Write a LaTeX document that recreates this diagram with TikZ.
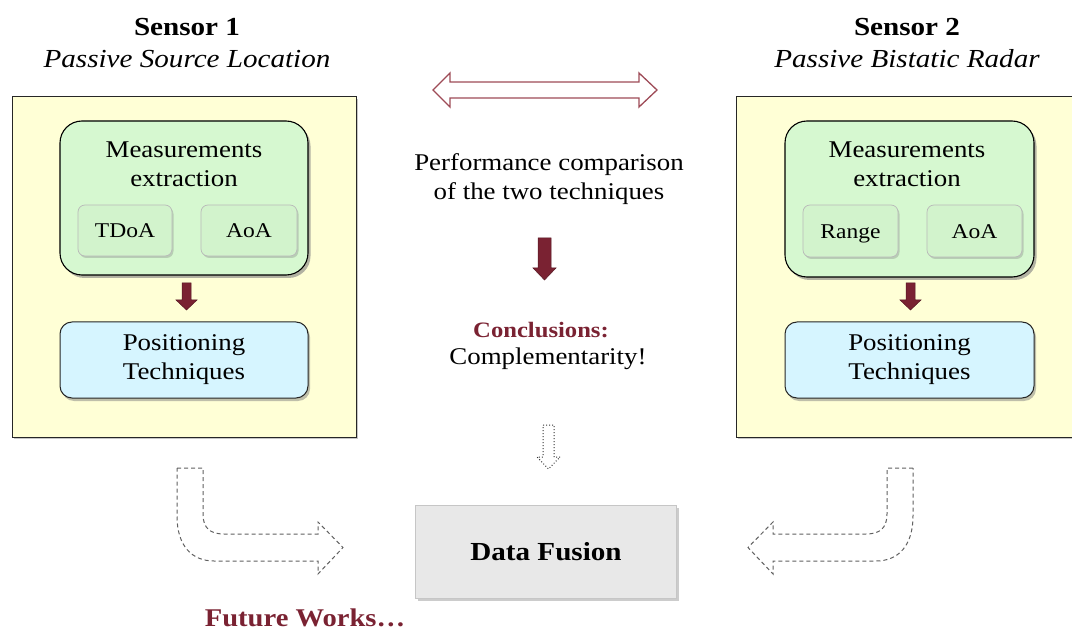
\documentclass[tikz,border=0pt]{standalone}
\usepackage{fontspec}
\setmainfont[FakeStretch=1.12]{Liberation Serif}
\usetikzlibrary{shadows}

\definecolor{panelfill}{HTML}{FFFFD6}
\definecolor{measfill}{HTML}{D6F8D0}
\definecolor{subfill}{HTML}{D2F3CC}
\definecolor{posfill}{HTML}{D6F5FF}
\definecolor{fusefill}{HTML}{E8E8E8}
\definecolor{wine}{HTML}{7A2232}
\definecolor{wineline}{HTML}{9E4B57}

\tikzset{
  panel/.style={draw=black!85, line width=1pt, fill=panelfill,
    drop shadow={shadow xshift=2pt, shadow yshift=-2pt, opacity=0.45}},
  measbox/.style={draw=black, line width=1.1pt, fill=measfill, rounded corners=22pt,
    drop shadow={shadow xshift=2.5pt, shadow yshift=-3pt, opacity=0.6}},
  subbox/.style={draw=gray!55, line width=0.7pt, fill=subfill, rounded corners=7pt,
    text height=18pt, text depth=3pt,
    drop shadow={shadow xshift=1.5pt, shadow yshift=-2pt, opacity=0.35}},
  posbox/.style={draw=black!85, line width=1pt, fill=posfill, rounded corners=12pt,
    drop shadow={shadow xshift=2pt, shadow yshift=-3pt, opacity=0.5}},
  fusebox/.style={draw=gray!45, line width=0.8pt, fill=fusefill,
    drop shadow={shadow xshift=2pt, shadow yshift=-3pt, opacity=0.4}},
  redarrow/.style={fill=wine, draw=wine!70!black, line width=0.5pt},
  bentarrow/.style={draw=gray!75!black, line width=1pt, dash pattern=on 4pt off 3pt},
  dotarrow/.style={draw=black!80, line width=1pt, dotted},
  heading/.style={font=\fontsize{26}{29}\selectfont\bfseries},
  subheading/.style={font=\fontsize{26}{29}\selectfont\itshape},
  bodytext/.style={font=\fontsize{24}{29}\selectfont, align=center},
  smalltext/.style={font=\fontsize{21}{22}\selectfont},
}

\begin{document}
\begin{tikzpicture}[x=1pt, y=-1pt]
\useasboundingbox (0,0) rectangle (1072,631);

% ---- headings
\node[heading] (s1) at (187,27) {Sensor 1};
\node[subheading] (s1sub) at (187,59) {Passive Source Location};
\node[heading] (s2) at (907,27) {Sensor 2};
\node[subheading] (s2sub) at (907,59) {Passive Bistatic Radar};

% ---- sensor 1 panel
\node[panel, minimum width=344pt, minimum height=340pt] (p1) at (184,267) {};
\node[measbox, minimum width=248pt, minimum height=154pt] (m1) at (184,198) {};
\node[bodytext] (m1t) at (184,164) {Measurements\\extraction};
\node[subbox, minimum width=94pt, minimum height=51pt, smalltext] (tdoa) at (125,230.5) {TDoA};
\node[subbox, minimum width=96pt, minimum height=51pt, smalltext] (aoa1) at (249,230.5) {AoA};
\node[posbox, minimum width=248pt, minimum height=76pt, bodytext] (pos1) at (184,360) {Positioning\\Techniques};
\draw[redarrow] (182,283) -- (191,283) -- (191,300) -- (197,300) -- (186.5,310)
  -- (176,300) -- (182,300) -- cycle;

% ---- sensor 2 panel
\node[panel, minimum width=344pt, minimum height=340pt] (p2) at (908,267) {};
\node[measbox, minimum width=249pt, minimum height=156pt] (m2) at (909.5,199) {};
\node[bodytext] (m2t) at (907,164) {Measurements\\extraction};
\node[subbox, minimum width=95pt, minimum height=52pt, smalltext] (range) at (850.5,231) {Range};
\node[subbox, minimum width=95pt, minimum height=52pt, smalltext] (aoa2) at (974.5,231) {AoA};
\node[posbox, minimum width=249pt, minimum height=76pt, bodytext] (pos2) at (909.5,360) {Positioning\\Techniques};
\draw[redarrow] (906,283) -- (915,283) -- (915,300) -- (921,300) -- (910.5,310)
  -- (900,300) -- (906,300) -- cycle;

% ---- comparison in the middle
\draw[wineline, line width=1.3pt, fill=white] (433,90) -- (450,73) -- (450,82) -- (639,82)
  -- (639,73) -- (657,90) -- (639,107) -- (639,98) -- (450,98) -- (450,107) -- cycle;
\node[bodytext] (perf) at (549,179) {Performance comparison\\of the two techniques};
\draw[redarrow] (538,238) -- (551,238) -- (551,268) -- (556,268) -- (544.5,280)
  -- (533,268) -- (538,268) -- cycle;
\node[font=\fontsize{22}{29}\selectfont\bfseries, text=wine] (concl) at (541,330) {Conclusions:};
\node[bodytext] (compl) at (548,359) {Complementarity!};
\draw[dotarrow] (543,425) -- (554,425) -- (554,457) -- (560,457) -- (548.5,469)
  -- (537,457) -- (543,457) -- cycle;

% ---- data fusion
\node[fusebox, minimum width=261pt, minimum height=93pt,
  font=\fontsize{26}{29}\selectfont\bfseries] (fusion) at (546,551.5) {Data Fusion};

% ---- bent dashed arrows towards the fusion block
\draw[bentarrow] (177,468) -- (203,468) -- (203,514)
  .. controls (203,528) and (210,534) .. (224,534) -- (318,534) -- (318,522)
  -- (343,547.5) -- (318,574) -- (318,561) -- (214,561)
  .. controls (192,561) and (177,546) .. (177,516) -- cycle;
\draw[bentarrow] (913,468) -- (887,468) -- (887,514)
  .. controls (887,528) and (880,534) .. (866,534) -- (773,534) -- (773,522)
  -- (748,547.5) -- (773,574) -- (773,561) -- (876,561)
  .. controls (898,561) and (913,546) .. (913,516) -- cycle;

\node[font=\fontsize{25.5}{29}\selectfont\bfseries, text=wine, inner sep=0pt] (future) at (305,618) {Future Works\ldots};
\end{tikzpicture}
\end{document}
